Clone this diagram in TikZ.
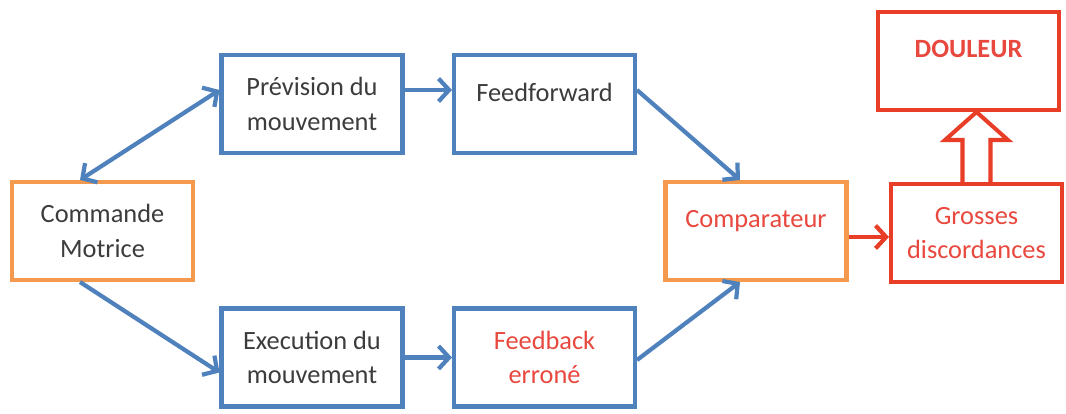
\documentclass[tikz,border=0pt]{standalone}
\usepackage{fontspec}
\setmainfont{Carlito}
\usetikzlibrary{arrows.meta,calc}
\definecolor{boxblue}{RGB}{79,129,189}
\definecolor{boxorange}{RGB}{244,154,78}
\definecolor{boxred}{RGB}{232,62,40}
\definecolor{txtred}{RGB}{232,72,62}
\definecolor{txtgray}{RGB}{60,60,60}
\begin{document}
\begin{tikzpicture}[
	box/.style={draw,line width=2.3pt,fill=white,minimum width=3.62cm,minimum height=1.96cm,align=center,text=txtgray,font=\fontsize{15}{19.5}\selectfont},
	bluebox/.style={box,draw=boxblue},
	orangebox/.style={box,draw=boxorange},
	redbox/.style={box,draw=boxred,text=txtred},
	barb/.tip={Straight Barb[length=6pt,width=13pt,line width=2.4pt]},
	link/.style={line width=2.4pt,boxblue,-barb}
	]
	\useasboundingbox (0,0) rectangle (21.32,8.28);

	\node[orangebox] (cmd) at (2.05,3.66) {Commande\\Motrice};
	\node[bluebox] (prev) at (6.24,6.2) {Prévision du\\mouvement};
	\node[bluebox] (ff) at (10.89,6.2) {Feedforward\\[-12pt]\strut};
	\node[bluebox] (exe) at (6.24,1.13) {Execution du\\mouvement};
	\node[bluebox,text=txtred] (fb) at (10.89,1.13) {Feedback\\erroné};
	\node[orangebox,text=txtred] (cmp) at (15.12,3.66) {Comparateur\\[-12pt]\strut};
	\node[redbox,minimum width=3.42cm] (gros) at (19.53,3.62) {Grosses\\discordances};
	\node[redbox,font=\bfseries\fontsize{15}{19.5}\selectfont] (dou) at (19.37,7.06) {DOULEUR\\[-12pt]\strut};

	\draw[link,barb-barb] ([xshift=-0.45cm]cmd.north) -- ([yshift=0.28cm]prev.west);
	\draw[link] ([xshift=-0.45cm]cmd.south) -- ([yshift=-0.3cm]exe.west);
	\draw[link] ([yshift=0.28cm]prev.east) -- ([yshift=0.28cm]ff.west);
	\draw[link] (exe.east) -- (fb.west);
	\draw[link] ([yshift=0.28cm]ff.east) -- ([xshift=-0.32cm]cmp.north);
	\draw[link] ([yshift=-0.05cm]fb.east) -- ([xshift=-0.32cm]cmp.south);
	\draw[link,boxred] ([yshift=-0.12cm]cmp.east) -- ([yshift=-0.12cm]cmp.east -| gros.west);

	\draw[boxred,line width=2.3pt,fill=white] ([xshift=-0.28cm]gros.north) |- ([xshift=-0.63cm,yshift=-0.56cm]gros.north |- dou.south) -- (gros.north |- dou.south) -- ([xshift=0.63cm,yshift=-0.56cm]gros.north |- dou.south) -| ([xshift=0.28cm]gros.north);
\end{tikzpicture}
\end{document}
